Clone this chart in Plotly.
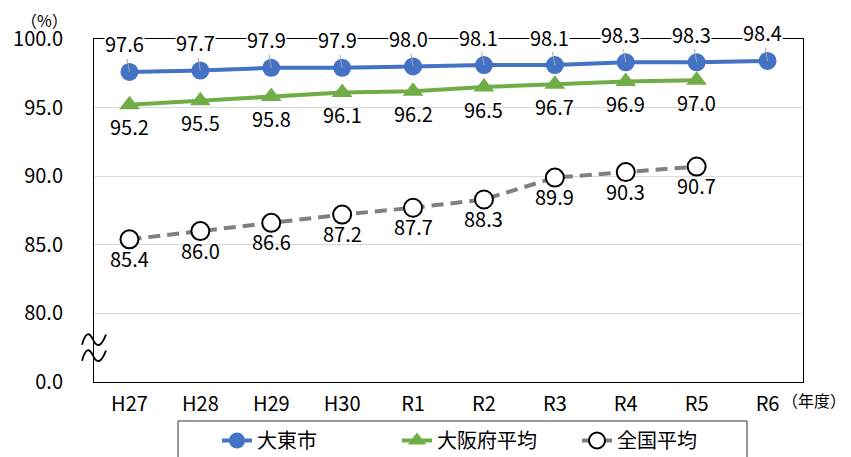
import plotly.graph_objects as go

years = ['H27', 'H28', 'H29', 'H30', 'R1', 'R2', 'R3', 'R4', 'R5', 'R6']
daito = [97.6, 97.7, 97.9, 97.9, 98.0, 98.1, 98.1, 98.3, 98.3, 98.4]
osaka = [95.2, 95.5, 95.8, 96.1, 96.2, 96.5, 96.7, 96.9, 97.0, None]
national = [85.4, 86.0, 86.6, 87.2, 87.7, 88.3, 89.9, 90.3, 90.7, None]

y_tickvals = [75, 80, 85, 90, 95, 100]
y_ticktext = ['0.0', '80.0', '85.0', '90.0', '95.0', '100.0']

names = ['大東市', '大阪府平均', '全国平均']

FONT = 'Noto Sans CJK JP'
BLUE = '#4472C4'
GREEN = '#70AD47'
GRAY = '#808080'

fig = go.Figure()

fig.add_trace(go.Scatter(
    x=years, y=daito, name=names[0], mode='lines+markers',
    line=dict(color=BLUE, width=4),
    marker=dict(symbol='circle', size=18, color=BLUE),
))
fig.add_trace(go.Scatter(
    x=years, y=osaka, name=names[1], mode='lines+markers',
    line=dict(color=GREEN, width=4),
    marker=dict(symbol='triangle-up', size=18, color=GREEN),
))
fig.add_trace(go.Scatter(
    x=years, y=national, name=names[2], mode='lines+markers',
    line=dict(color=GRAY, width=4, dash='12px,7px'),
    marker=dict(symbol='circle', size=18, color='white',
                line=dict(color='black', width=2)),
))

annotations = []
for xv, yv in zip(years, daito):
    annotations.append(dict(
        x=xv, y=yv, xref='x', yref='y', text=f'{yv:.1f}',
        showarrow=True, arrowhead=0, arrowwidth=1, arrowcolor='#A6A6A6',
        ax=-5, ay=-28, bgcolor='white', borderpad=0,
        font=dict(family=FONT, size=20, color='black'),
    ))
for xv, yv in zip(years, osaka):
    if yv is None:
        continue
    annotations.append(dict(
        x=xv, y=yv, xref='x', yref='y', text=f'{yv:.1f}',
        showarrow=False, yshift=-22,
        font=dict(family=FONT, size=20, color='black'),
    ))
for xv, yv in zip(years, national):
    if yv is None:
        continue
    annotations.append(dict(
        x=xv, y=yv, xref='x', yref='y', text=f'{yv:.1f}',
        showarrow=False, yshift=-19,
        font=dict(family=FONT, size=20, color='black'),
    ))

annotations.append(dict(
    x=-0.0705, y=1.0, xref='paper', yref='paper', text='（%）',
    showarrow=False, xanchor='center', yanchor='middle', yshift=19,
    font=dict(family=FONT, size=16, color='black'),
))
annotations.append(dict(
    x=0.968, y=0, xref='paper', yref='paper', text='（年度）',
    showarrow=False, xanchor='left', yanchor='middle', yshift=-18,
    font=dict(family=FONT, size=16, color='black'),
))

# axis break symbol
brk_path = ('M -12,3 Q -7,21 -1,8 Q 5,-5 12,13 '
            'M -12,-13 Q -7,5 -1,-8 Q 5,-21 12,-3')
shapes = [
    dict(
        type='path', xref='paper', yref='y', xsizemode='pixel', ysizemode='pixel',
        xanchor=0, yanchor=77.5, path=brk_path,
        line=dict(color='black', width=1.8),
    ),
    # legend frame
    dict(
        type='rect', xref='paper', yref='paper',
        x0=0.1185, x1=0.921, y0=-0.1137, y1=-0.35,
        line=dict(color='#333333', width=1), fillcolor='rgba(0,0,0,0)',
        layer='above',
    ),
]

fig.update_layout(
    width=843, height=449,
    margin=dict(l=86, r=48, t=31, b=75, autoexpand=False),
    paper_bgcolor='white', plot_bgcolor='white',
    font=dict(family=FONT, size=20, color='black'),
    showlegend=True,
    legend=dict(
        orientation='h', x=0.1735, xanchor='left', y=-0.1137, yanchor='top',
        borderwidth=0, bgcolor='rgba(0,0,0,0)',
        font=dict(family=FONT, size=20, color='black'),
        entrywidth=135, entrywidthmode='pixels',
    ),
    annotations=annotations,
    shapes=shapes,
)

fig.update_xaxes(
    type='category', range=[-0.5, 9.5],
    showline=True, linecolor='black', linewidth=1, mirror=True,
    showgrid=False, ticks='', ticklabelstandoff=4,
    tickfont=dict(family=FONT, size=20, color='black'),
)
fig.update_yaxes(
    range=[75, 100], tickvals=y_tickvals, ticktext=y_ticktext,
    showline=True, linecolor='black', linewidth=1, mirror=True,
    showgrid=True, gridcolor='#D9D9D9', gridwidth=1, zeroline=False,
    ticks='', ticklabelstandoff=26,
    tickfont=dict(family=FONT, size=20, color='black'),
)

fig.write_html('out.html')
